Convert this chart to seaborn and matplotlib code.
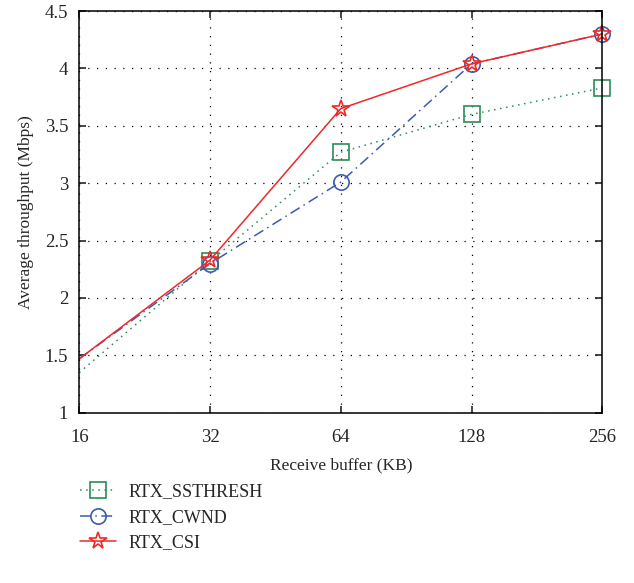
import numpy as np
import pandas as pd
import matplotlib
matplotlib.use("Agg")
import matplotlib.pyplot as plt
import seaborn as sns

sns.set_style("white")
plt.rcParams['font.family'] = ['Liberation Serif', 'DejaVu Serif']

# data
buffer_kb = [16, 32, 64, 128, 256]
ssthresh = [1.35, 2.32, 3.27, 3.60, 3.83]
cwnd = [1.47, 2.30, 3.01, 4.04, 4.30]
csi = [1.47, 2.33, 3.65, 4.04, 4.30]
series_names = ["RTX_SSTHRESH", "RTX_CWND", "RTX_CSI"]

df = pd.DataFrame({"buffer": buffer_kb * 3,
                   "tput": ssthresh + cwnd + csi,
                   "scheme": np.repeat(series_names, len(buffer_kb))})

colors = {"RTX_SSTHRESH": "#2e8b57", "RTX_CWND": "#3a5bb0", "RTX_CSI": "#f02828"}
styles = {"RTX_SSTHRESH": dict(ls=(0, (1, 3)), marker="s", ms=11),
          "RTX_CWND": dict(ls=(0, (7, 3, 1, 3)), marker="o", ms=11),
          "RTX_CSI": dict(ls="-", marker="*", ms=13)}

fig = plt.figure(figsize=(6.34, 5.83), dpi=100)
ax = fig.add_axes([0.125, 0.292, 0.825, 0.689])

for name in series_names:
    sub = df[df.scheme == name]
    st = styles[name]
    sns.lineplot(data=sub, x="buffer", y="tput", ax=ax, color=colors[name],
                 linestyle=st["ls"], marker=st["marker"], markersize=st["ms"],
                 markevery=[1, 2, 3, 4], clip_on=False,
                 markerfacecolor="none", markeredgecolor=colors[name],
                 markeredgewidth=1.2, lw=1.1, label=name)

ax.set_xscale("log", base=2)
ax.set_xlim(16, 256)
ax.set_ylim(1, 4.5)
ax.set_xticks(buffer_kb)
ax.set_xticklabels([str(b) for b in buffer_kb])
ax.minorticks_off()
ax.set_yticks([1, 1.5, 2, 2.5, 3, 3.5, 4, 4.5])
ax.set_yticklabels(["1", "1.5", "2", "2.5", "3", "3.5", "4", "4.5"])
ax.tick_params(direction="in", length=5, width=1.2, labelsize=13.5,
               top=True, right=True, bottom=True, left=True, pad=8)
ax.tick_params(axis="x", pad=12)
ax.grid(True, color="black", ls=(0, (1, 6)), lw=0.9)
for s in ax.spines.values():
    s.set_color("black")
    s.set_linewidth(1.1)

ax.set_xlabel("Receive buffer (KB)", fontsize=12.5, labelpad=8)
ax.set_ylabel("Average throughput (Mbps)", fontsize=12.5, labelpad=8)

ax.legend(loc="upper left", bbox_to_anchor=(-0.03, -0.135), frameon=False,
          fontsize=13, handlelength=2.0, labelspacing=0.48, handletextpad=0.7)

fig.savefig("out.png", dpi=100)
